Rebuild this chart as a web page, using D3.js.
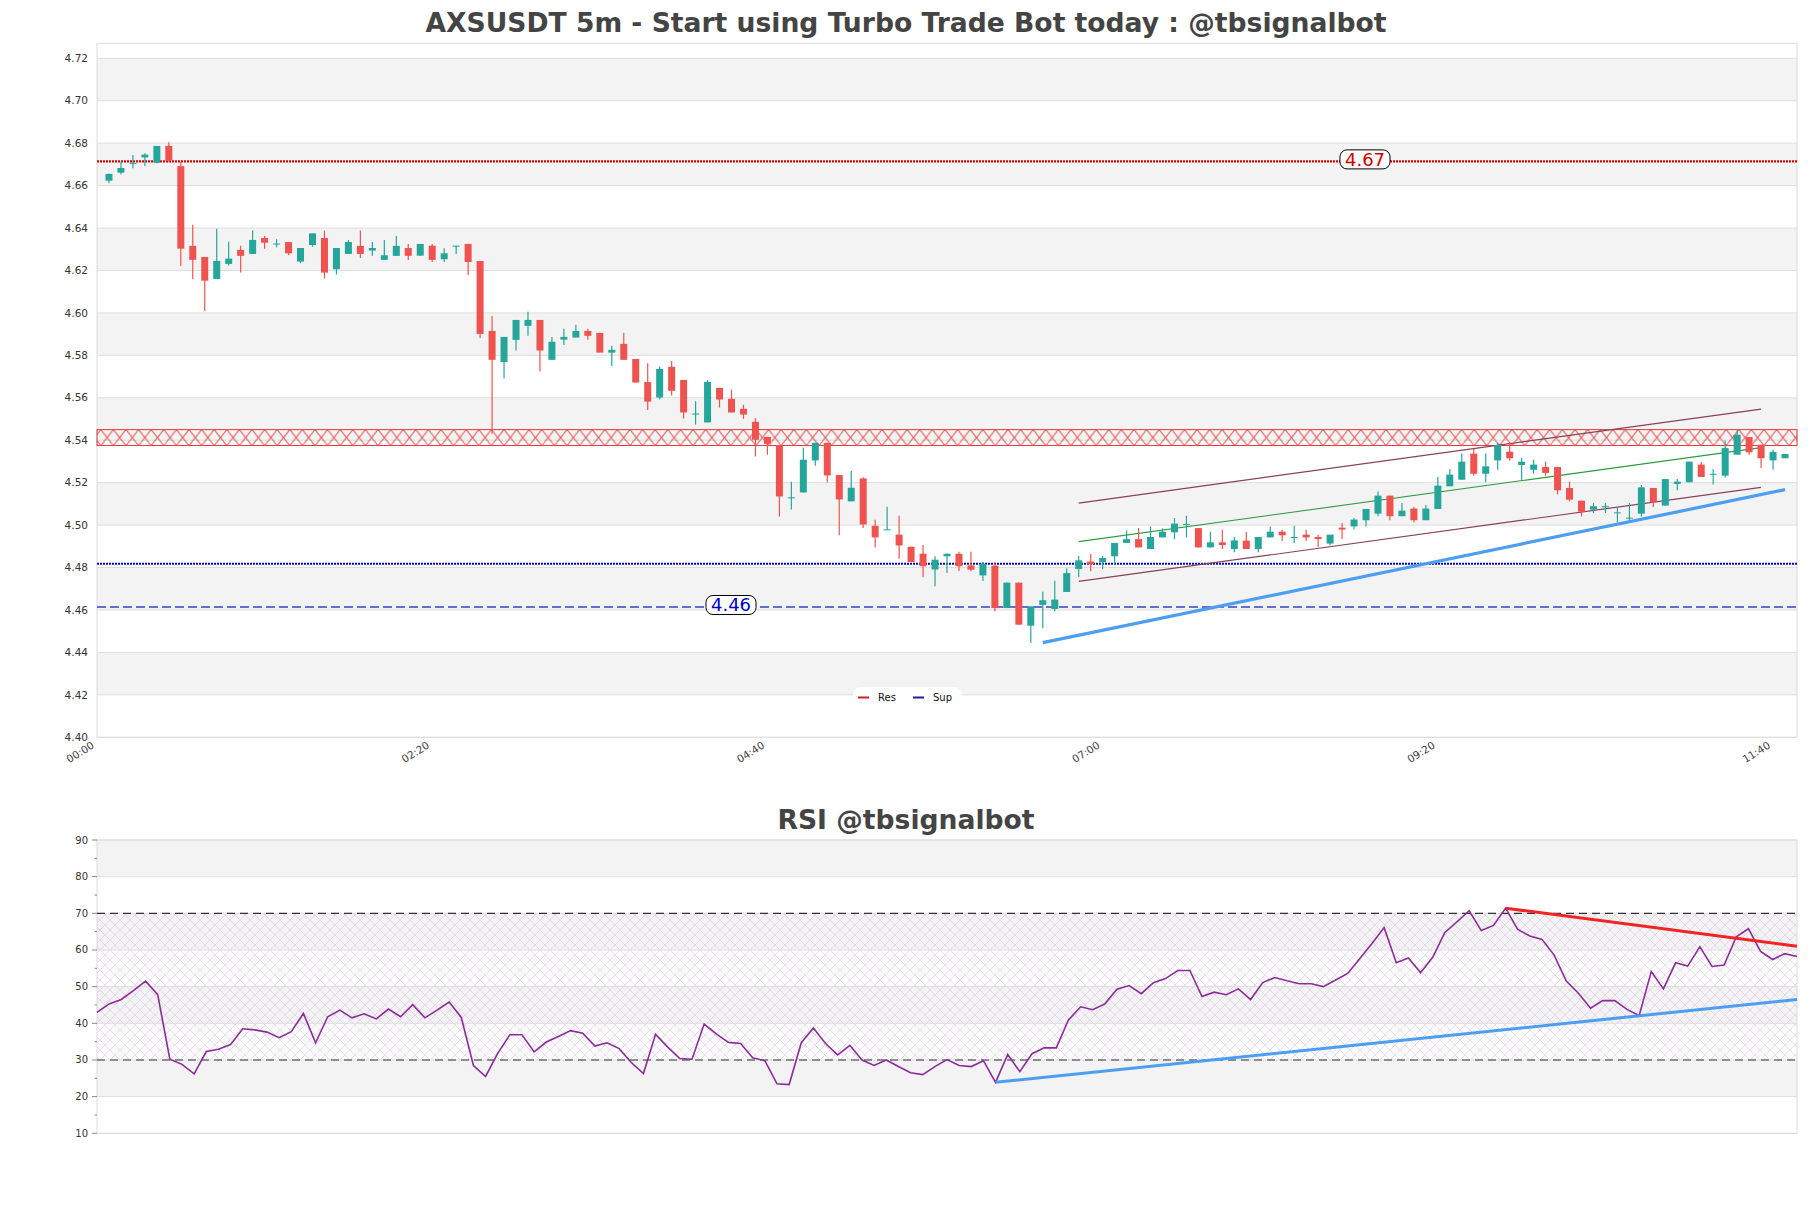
<!DOCTYPE html>
<html><head><meta charset="utf-8">
<script src="https://cdn.jsdelivr.net/npm/d3@7/dist/d3.min.js"></script>
<style>body{margin:0;background:#fff}svg{display:block}text{font-family:"DejaVu Sans",sans-serif}</style>
</head><body><svg id="c" width="1811" height="1208"></svg>
<script>
// ---------- DATA ----------
const chartTitle = "AXSUSDT 5m - Start using Turbo Trade Bot today : @tbsignalbot";
const rsiTitle = "RSI @tbsignalbot";
const firstCandleMinute = 5;   // 00:05
const candleMinutes = 5;
const openP = [4.6623,4.6661,4.6705,4.6733,4.6708,4.6787,4.6692,4.6316,4.6264,4.6160,
4.6231,4.6297,4.6278,4.6353,4.6325,4.6334,4.6242,4.6320,4.6353,4.6206,
4.6278,4.6316,4.6294,4.6250,4.6269,4.6306,4.6270,4.6317,4.6253,4.6314,
4.6325,4.6245,4.5915,4.5769,4.5873,4.5939,4.5967,4.5779,4.5874,4.5884,
4.5915,4.5906,4.5813,4.5854,4.5783,4.5674,4.5601,4.5746,4.5684,4.5521,
4.5484,4.5647,4.5595,4.5548,4.5487,4.5416,4.5377,4.5126,4.5154,4.5305,
4.5388,4.5236,4.5112,4.5220,4.4997,4.4977,4.4955,4.4898,4.4865,4.4791,
4.4853,4.4865,4.4810,4.4763,4.4809,4.4609,4.4729,4.4526,4.4624,4.4605,
4.4685,4.4793,4.4828,4.4825,4.4853,4.4916,4.4934,4.4887,4.4942,4.4966,
4.5002,4.4986,4.4895,4.4919,4.4887,4.4927,4.4887,4.4942,4.4969,4.4941,
4.4955,4.4944,4.4913,4.4988,4.4994,4.5023,4.5054,4.5139,4.5042,4.5078,
4.5023,4.5076,4.5183,4.5214,4.5337,4.5242,4.5305,4.5346,4.5283,4.5261,
4.5274,4.5274,4.5175,4.5115,4.5073,4.5084,4.5057,4.5032,4.5054,4.5175,
4.5092,4.5194,4.5202,4.5285,4.5238,4.5233,4.5332,4.5415,4.5379,4.5305,
4.5315];
const highP = [4.6657,4.6713,4.6744,4.6752,4.6787,4.6804,4.6713,4.6415,4.6264,4.6397,
4.6335,4.6316,4.6388,4.6363,4.6347,4.6334,4.6306,4.6375,4.6388,4.6306,
4.6344,4.6388,4.6334,4.6344,4.6363,4.6325,4.6325,4.6325,4.6305,4.6317,
4.6325,4.6245,4.5986,4.5887,4.5967,4.6005,4.5967,4.5887,4.5925,4.5944,
4.5925,4.5906,4.5845,4.5906,4.5783,4.5763,4.5747,4.5774,4.5684,4.5584,
4.5684,4.5647,4.5638,4.5567,4.5504,4.5416,4.5377,4.5204,4.5365,4.5388,
4.5388,4.5236,4.5256,4.5226,4.5025,4.5087,4.5044,4.4898,4.4906,4.4853,
4.4865,4.4875,4.4875,4.4826,4.4826,4.4729,4.4729,4.4617,4.4686,4.4738,
4.4795,4.4854,4.4864,4.4856,4.4916,4.4975,4.4986,4.4994,4.4985,4.5033,
4.5044,4.4986,4.4969,4.4978,4.4944,4.4969,4.4944,4.4994,4.4978,4.4997,
4.4978,4.4955,4.4955,4.5010,4.5034,4.5076,4.5158,4.5139,4.5104,4.5085,
4.5095,4.5227,4.5264,4.5337,4.5359,4.5337,4.5390,4.5390,4.5318,4.5308,
4.5299,4.5274,4.5205,4.5115,4.5104,4.5104,4.5085,4.5104,4.5189,4.5175,
4.5217,4.5217,4.5299,4.5299,4.5264,4.5399,4.5447,4.5415,4.5379,4.5355,
4.5335];
const lowP = [4.6611,4.6652,4.6682,4.6692,4.6705,4.6713,4.6221,4.6160,4.6009,4.6160,
4.6223,4.6190,4.6278,4.6303,4.6309,4.6272,4.6234,4.6312,4.6162,4.6181,
4.6278,4.6259,4.6269,4.6250,4.6269,4.6250,4.6270,4.6240,4.6240,4.6278,
4.6179,4.5882,4.5430,4.5691,4.5823,4.5892,4.5724,4.5779,4.5849,4.5884,
4.5873,4.5813,4.5750,4.5779,4.5672,4.5543,4.5592,4.5611,4.5502,4.5474,
4.5484,4.5554,4.5531,4.5501,4.5324,4.5332,4.5041,4.5073,4.5154,4.5280,
4.5201,4.4952,4.5112,4.4986,4.4895,4.4977,4.4842,4.4826,4.4754,4.4712,
4.4774,4.4784,4.4782,4.4737,4.4594,4.4609,4.4531,4.4445,4.4514,4.4594,
4.4685,4.4755,4.4782,4.4793,4.4814,4.4916,4.4895,4.4887,4.4942,4.4934,
4.4942,4.4895,4.4895,4.4887,4.4872,4.4887,4.4872,4.4942,4.4925,4.4916,
4.4925,4.4897,4.4905,4.4935,4.4979,4.4994,4.5042,4.5023,4.5042,4.5013,
4.5023,4.5076,4.5183,4.5214,4.5233,4.5202,4.5261,4.5305,4.5214,4.5242,
4.5233,4.5145,4.5112,4.5041,4.5057,4.5057,4.5013,4.5010,4.5041,4.5085,
4.5092,4.5164,4.5202,4.5227,4.5191,4.5224,4.5332,4.5332,4.5269,4.5261,
4.5315];
const closeP = [4.6655,4.6683,4.6707,4.6746,4.6787,4.6718,4.6303,4.6250,4.6152,4.6245,
4.6256,4.6269,4.6344,4.6331,4.6327,4.6281,4.6306,4.6375,4.6190,4.6306,
4.6334,4.6278,4.6306,4.6272,4.6316,4.6269,4.6325,4.6250,4.6281,4.6317,
4.6240,4.5901,4.5779,4.5887,4.5967,4.5967,4.5823,4.5864,4.5887,4.5915,
4.5892,4.5813,4.5826,4.5779,4.5672,4.5582,4.5736,4.5633,4.5531,4.5526,
4.5675,4.5592,4.5531,4.5521,4.5402,4.5383,4.5135,4.5131,4.5308,4.5388,
4.5234,4.5121,4.5176,4.5003,4.4942,4.4980,4.4904,4.4826,4.4806,4.4837,
4.4865,4.4806,4.4790,4.4818,4.4609,4.4729,4.4531,4.4617,4.4646,4.4649,
4.4774,4.4834,4.4815,4.4845,4.4916,4.4934,4.4895,4.4944,4.4969,4.5007,
4.5005,4.4895,4.4919,4.4906,4.4928,4.4887,4.4944,4.4969,4.4952,4.4944,
4.4942,4.4934,4.4955,4.4979,4.5026,4.5076,4.5139,4.5042,4.5068,4.5023,
4.5078,4.5186,4.5238,4.5299,4.5242,4.5277,4.5377,4.5315,4.5299,4.5285,
4.5246,4.5164,4.5120,4.5063,4.5089,4.5089,4.5060,4.5035,4.5178,4.5107,
4.5217,4.5205,4.5299,4.5227,4.5242,4.5363,4.5426,4.5343,4.5315,4.5345,
4.5335];
const rsiValues = [43.0,45.3,46.5,48.9,51.5,47.8,30.2,28.8,26.2,32.3,
32.9,34.2,38.5,38.2,37.6,36.1,37.7,42.7,34.7,41.8,
43.6,41.5,42.6,41.2,43.9,41.8,45.1,41.5,43.6,45.8,
41.6,28.5,25.5,31.8,36.9,36.9,32.2,34.9,36.4,38.0,
37.3,33.8,34.7,33.1,29.3,26.3,37.0,33.5,30.4,30.2,
39.8,37.1,34.8,34.5,30.6,29.8,23.5,23.3,34.7,38.7,
34.5,31.4,34.0,30.0,28.5,30.0,28.2,26.5,26.0,28.2,
30.1,28.5,28.2,29.8,23.9,31.5,26.8,31.7,33.3,33.3,
40.9,44.5,43.7,45.3,49.3,50.3,48.1,51.1,52.2,54.4,
54.4,47.3,48.5,47.8,49.4,46.5,51.1,52.5,51.6,50.8,
50.8,50.0,51.8,53.6,57.7,61.8,66.1,56.5,57.8,53.8,
58.0,64.8,67.7,70.7,65.3,66.7,71.4,65.6,63.8,62.9,
58.6,51.5,48.2,44.1,46.2,46.2,43.8,42.1,54.1,49.4,
56.5,55.6,60.9,55.5,55.9,63.6,65.8,59.6,57.4,59.0,
58.2];
const priceTicks = [4.40,4.42,4.44,4.46,4.48,4.50,4.52,4.54,4.56,4.58,4.60,4.62,4.64,4.66,4.68,4.70,4.72];
const timeTickLabels = ["00:00","02:20","04:40","07:00","09:20","11:40"];
const rsiTicks = [10,20,30,40,50,60,70,80,90];
const rsiMinorTicks = [15,25,35,45,55,65,75,85];
const resistanceLine = 4.6714, resistanceLabel = "4.67";
const supportDotted = 4.4818;
const supportDashed = 4.4614, supportLabel = "4.46";
const resistanceZone = [4.5375, 4.5450];
// trend lines as [candle number, value]
const channelUpper = [[82,4.5104],[139,4.5547]];
const channelMid   = [[82,4.4922],[139,4.5365]];
const channelLower = [[82,4.4735],[139,4.5178]];
const priceSupportTrend = [[79,4.4446],[141,4.5167]];
const rsiResTrend = [[117,71.4],[141,61.0]];
const rsiSupTrend = [[75,23.9],[141,46.5]];
const legendItems = [{name:"Res",color:"#cc2020"},{name:"Sup",color:"#1a1aa8"}];

// ---------- DRAW ----------
const svg = d3.select("#c");
const L = 97, R = 1797;
const base = new Date(2024,0,1,0,0);
const tOf = n => new Date(base.getTime() + (firstCandleMinute + (n-1)*candleMinutes)*60000);
const candles = openP.map((o,k)=>({n:k+1,t:tOf(k+1),o,h:highP[k],l:lowP[k],c:closeP[k]}));

const x = d3.scaleTime().domain([base, new Date(base.getTime()+ (firstCandleMinute + candles.length*candleMinutes)*60000)]).range([L,R]);
const y = d3.scaleLinear().domain([4.40,4.72]).range([737.3,58.3]);
const mainTop = 43.3, mainBot = 737.3;

const defs = svg.append("defs");
const hh = y(resistanceZone[0])-y(resistanceZone[1]);
const hatch = defs.append("pattern").attr("id","resHatch").attr("patternUnits","userSpaceOnUse")
  .attr("width",12.6).attr("height", hh).attr("y", y(resistanceZone[1]));
hatch.append("path").attr("d",`M0,0L12.6,${hh}M12.6,0L0,${hh}`).attr("stroke","#e24848").attr("stroke-width",1).attr("fill","none");
const rh = defs.append("pattern").attr("id","rsiHatch").attr("patternUnits","userSpaceOnUse").attr("width",10).attr("height",10);
rh.append("path").attr("d","M0,0L10,10M10,0L0,10").attr("stroke","#dccbe4").attr("stroke-width",0.7).attr("fill","none");

// title
svg.append("text").attr("x",906).attr("y",32).attr("text-anchor","middle")
  .attr("font-size",26.6).attr("font-weight","bold").attr("fill","#444").text(chartTitle);

const g = svg.append("g");
for (let k=0;k<priceTicks.length-1;k++){
  const lo=priceTicks[k], hi=priceTicks[k+1];
  if (k%2===1) g.append("rect").attr("x",L).attr("width",R-L).attr("y",y(hi)).attr("height",y(lo)-y(hi)).attr("fill","#f3f3f3");
}
g.selectAll(".grid").data(priceTicks).join("line").attr("x1",L).attr("x2",R)
  .attr("y1",d=>y(d)).attr("y2",d=>y(d)).attr("stroke","#dedede").attr("stroke-width",1);
g.append("rect").attr("x",L).attr("y",mainTop).attr("width",R-L).attr("height",mainBot-mainTop)
  .attr("fill","none").attr("stroke","#dcdcdc");
g.selectAll(".yl").data(priceTicks).join("text").attr("x",88).attr("y",d=>y(d)).attr("dy","0.35em")
  .attr("text-anchor","end").attr("font-size",10.5).attr("fill","#333").text(d=>d.toFixed(2));
const parseT = s => { const [hh,mm]=s.split(":").map(Number); return new Date(base.getTime()+(hh*60+mm)*60000); };
g.selectAll(".xl").data(timeTickLabels).join("text")
  .attr("transform",d=>`translate(${x(parseT(d))-2},${mainBot+10}) rotate(-32)`)
  .attr("text-anchor","end").attr("font-size",10.5).attr("fill","#444").text(d=>d);

// resistance zone
g.append("rect").attr("x",L).attr("width",R-L).attr("y",y(resistanceZone[1])).attr("height",hh)
  .attr("fill","url(#resHatch)").attr("stroke","#e03a3a").attr("stroke-width",1);

// horizontal levels
g.append("line").attr("x1",L).attr("x2",R).attr("y1",y(resistanceLine)).attr("y2",y(resistanceLine))
  .attr("stroke","#e00000").attr("stroke-width",2.2).attr("stroke-dasharray","2,1");
g.append("line").attr("x1",L).attr("x2",R).attr("y1",y(supportDotted)).attr("y2",y(supportDotted))
  .attr("stroke","#0000c8").attr("stroke-width",2.2).attr("stroke-dasharray","2,1");
g.append("line").attr("x1",L).attr("x2",R).attr("y1",y(supportDashed)).attr("y2",y(supportDashed))
  .attr("stroke","#3344c4").attr("stroke-width",1.5).attr("stroke-dasharray","9,4");

const xn = n => x(tOf(n));
const seg = (pts,color,w) => g.append("line").attr("x1",xn(pts[0][0])).attr("y1",y(pts[0][1]))
  .attr("x2",xn(pts[1][0])).attr("y2",y(pts[1][1])).attr("stroke",color).attr("stroke-width",w);
seg(channelUpper,"#8a4055",1.2);
seg(channelLower,"#8a4055",1.2);
seg(channelMid,"#2e9a3e",1.1);

const up="#26a69a", dn="#ef5350";
const cg = g.append("g");
cg.selectAll(".wick").data(candles).join("line").attr("x1",d=>x(d.t)).attr("x2",d=>x(d.t))
  .attr("y1",d=>y(d.h)).attr("y2",d=>y(d.l)).attr("stroke",d=>d.c>=d.o?up:dn).attr("stroke-width",1.2);
cg.selectAll(".body").data(candles).join("rect").attr("x",d=>x(d.t)-3.5).attr("width",7)
  .attr("y",d=>y(Math.max(d.o,d.c))).attr("height",d=>Math.max(1,Math.abs(y(d.o)-y(d.c))))
  .attr("fill",d=>d.c>=d.o?up:dn);

seg(priceSupportTrend,"#4c9ff0",3.2);

function tag(cx,cy,txt,color){
  const t = g.append("text").attr("x",cx).attr("y",cy).attr("dy","0.36em").attr("text-anchor","middle")
    .attr("font-size",18).attr("fill",color).text(txt);
  const b = t.node().getBBox();
  g.insert("rect","text:last-child").attr("x",b.x-5).attr("y",b.y+1).attr("width",b.width+10).attr("height",b.height-2)
    .attr("rx",7).attr("fill","#fff").attr("stroke","#000").attr("stroke-width",1);
  t.raise();
}
tag(1365,y(resistanceLine)-2,resistanceLabel,"#d00000");
tag(731,y(supportDashed)-2,supportLabel,"#0000cc");

const lg = g.append("g");
lg.append("rect").attr("x",853).attr("y",687).attr("width",109).attr("height",17).attr("rx",8).attr("fill","#fff");
legendItems.forEach((it,k)=>{
  const ox = 858 + k*55;
  lg.append("line").attr("x1",ox).attr("x2",ox+11).attr("y1",697.5).attr("y2",697.5).attr("stroke",it.color).attr("stroke-width",2);
  lg.append("text").attr("x",ox+20).attr("y",697).attr("dy","0.35em").attr("font-size",10).attr("fill","#111").text(it.name);
});

// ---------- RSI ----------
const rx = d3.scaleLinear().domain([1, rsiValues.length]).range([L,R]);
const ry = d3.scaleLinear().domain([10,90]).range([1133.3,840]);
svg.append("text").attr("x",906).attr("y",829).attr("text-anchor","middle")
  .attr("font-size",26.6).attr("font-weight","bold").attr("fill","#444").text(rsiTitle);
const rg = svg.append("g");
for (let k=0;k<rsiTicks.length-1;k++){
  const lo=rsiTicks[k], hi=rsiTicks[k+1];
  if (k%2===1) rg.append("rect").attr("x",L).attr("width",R-L).attr("y",ry(hi)).attr("height",ry(lo)-ry(hi)).attr("fill","#f3f3f3");
}
rg.append("rect").attr("x",L).attr("width",R-L).attr("y",ry(70)).attr("height",ry(30)-ry(70)).attr("fill","url(#rsiHatch)");
rg.selectAll(".rgrid").data(rsiTicks).join("line").attr("x1",L).attr("x2",R)
  .attr("y1",d=>ry(d)).attr("y2",d=>ry(d)).attr("stroke","#dedede");
rg.append("rect").attr("x",L).attr("y",ry(90)).attr("width",R-L).attr("height",ry(10)-ry(90))
  .attr("fill","none").attr("stroke","#dcdcdc");
rg.selectAll(".rt").data(rsiTicks).join("line").attr("x1",L-5).attr("x2",L).attr("y1",d=>ry(d)).attr("y2",d=>ry(d)).attr("stroke","#888");
rg.selectAll(".rmt").data(rsiMinorTicks).join("line").attr("x1",L-2.5).attr("x2",L).attr("y1",d=>ry(d)).attr("y2",d=>ry(d)).attr("stroke","#888");
rg.selectAll(".rl").data(rsiTicks).join("text").attr("x",88).attr("y",d=>ry(d)).attr("dy","0.35em")
  .attr("text-anchor","end").attr("font-size",10).attr("fill","#333").text(d=>d);
[70,30].forEach(v=>rg.append("line").attr("x1",L).attr("x2",R).attr("y1",ry(v)).attr("y2",ry(v))
  .attr("stroke","#333").attr("stroke-width",1.2).attr("stroke-dasharray","8,5"));
rg.append("path").datum(rsiValues).attr("fill","none").attr("stroke","#8e2a9c").attr("stroke-width",1.6)
  .attr("d",d3.line().x((d,k)=>rx(k+1)).y(d=>ry(d)));
const rseg=(pts,color,w)=>rg.append("line").attr("x1",rx(pts[0][0])).attr("y1",ry(pts[0][1]))
  .attr("x2",rx(pts[1][0])).attr("y2",ry(pts[1][1])).attr("stroke",color).attr("stroke-width",w);
rseg(rsiSupTrend,"#4c9ff0",3);
rseg(rsiResTrend,"#f02424",3);
</script></body></html>
